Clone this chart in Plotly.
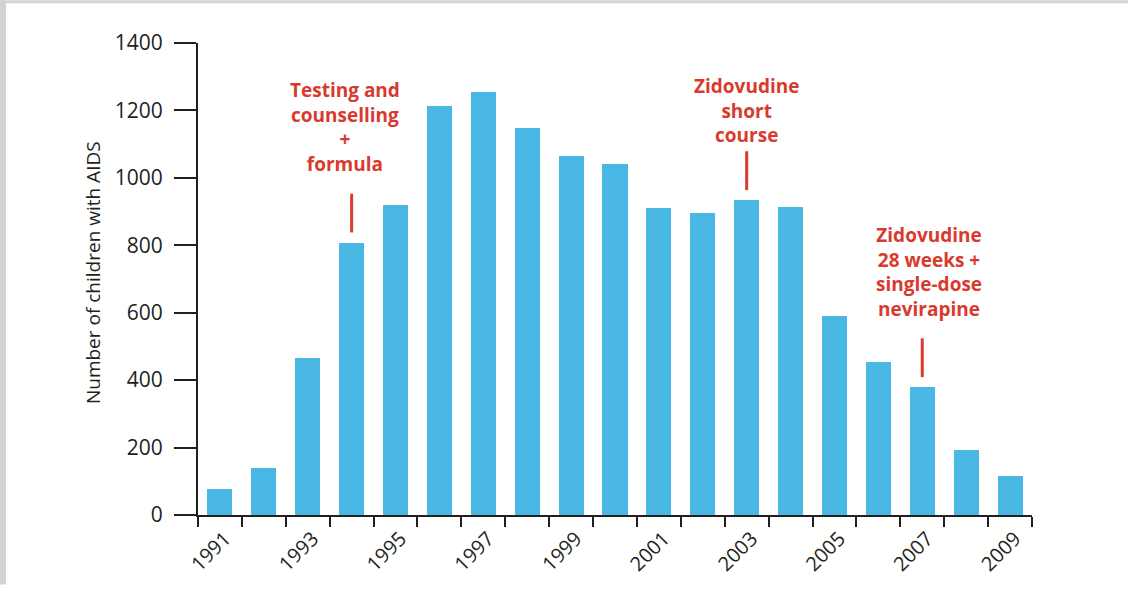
import plotly.graph_objects as go

# ---- data ----
years = list(range(1991, 2010))
cases = [76, 138, 465, 808, 919, 1213, 1254, 1149, 1066, 1040, 911, 896, 934, 914, 591, 455, 379, 194, 115]
label_years = years[::2]
tick_labels = [str(y) for y in label_years]
y_ticks = [0, 200, 400, 600, 800, 1000, 1200, 1400]
boundaries = [y - 0.5 for y in years] + [years[-1] + 0.5]

note_years = [1994, 2003, 2007]
note_texts = [
    "Testing and<br>counselling<br>+<br>formula",
    "Zidovudine<br>short<br>course",
    "Zidovudine<br>28 weeks +<br>single-dose<br>nevirapine",
]
note_x = [1993.85, 2003.0, 2007.15]
note_y = [1150, 1200, 720]

BLUE = "#49b8e4"
RED = "#d93a2e"
DARK = "#231f20"
FONT = "Open Sans"

W, H = 1128, 589
L, R, T, B = 198, 96, 43, 70
PW, PH = W - L - R, H - T - B

fig = go.Figure()
fig.add_trace(go.Bar(x=years, y=cases, marker_color=BLUE, marker_line_width=0,
                     width=0.57, showlegend=False, hoverinfo="x+y"))

shapes = []
# red marker lines above bars
val = dict(zip(years, cases))
for yr in note_years:
    shapes.append(dict(type="line", xref="x", yref="y", x0=yr, x1=yr,
                       y0=val[yr] + 30, y1=val[yr] + 145,
                       line=dict(color=RED, width=3)))
# grey frame bands (top, left)
def px_x(p):
    return (p - L) / PW
def px_y(p):
    return (H - B - p) / PH
shapes.append(dict(type="rect", xref="paper", yref="paper", x0=px_x(0), x1=px_x(W),
                   y0=px_y(3), y1=px_y(0), fillcolor="#d2d3d5", line_width=0, layer="below"))
shapes.append(dict(type="rect", xref="paper", yref="paper", x0=px_x(0), x1=px_x(6),
                   y0=px_y(H), y1=px_y(0), fillcolor="#d2d3d5", line_width=0, layer="below"))

annotations = []
for x, y, t in zip(note_x, note_y, note_texts):
    annotations.append(dict(x=x, y=y, xref="x", yref="y", text=t, showarrow=False,
                            align="center", xanchor="center", yanchor="middle",
                            font=dict(family=FONT, size=19, color=RED, weight="bold")))
annotations.append(dict(x=px_x(93), y=px_y(275), xref="paper", yref="paper",
                        text="Number of children with AIDS", textangle=-90, showarrow=False,
                        xanchor="center", yanchor="middle",
                        font=dict(family=FONT, size=19, color=DARK)))

fig.update_layout(
    width=W, height=H,
    margin=dict(l=L, r=R, t=T, b=B),
    paper_bgcolor="white", plot_bgcolor="white",
    shapes=shapes, annotations=annotations,
    bargap=0,
    xaxis=dict(range=[boundaries[0], boundaries[-1]], tickmode="array",
               tickvals=label_years, ticktext=tick_labels, ticks="",
               tickangle=-45, tickfont=dict(family=FONT, size=20, color=DARK),
               showline=True, linecolor=DARK, linewidth=2, showgrid=False, zeroline=False,
               ticklabelshift=5, ticklabelstandoff=2,
               minor=dict(tickmode="array", tickvals=boundaries, ticks="outside",
                          ticklen=10, tickwidth=2, tickcolor=DARK, showgrid=False)),
    yaxis=dict(range=[0, 1400], tickmode="array", tickvals=y_ticks,
               ticks="outside", ticklen=22, tickwidth=2, tickcolor=DARK,
               tickfont=dict(family=FONT, size=21, color=DARK), ticklabelstandoff=7,
               showline=True, linecolor=DARK, linewidth=2, showgrid=False, zeroline=False),
    font=dict(family=FONT, color=DARK),
)

fig.write_html("out.html", config={"displayModeBar": False},
               post_script="document.body.style.margin='0';document.body.style.overflow='hidden';")
